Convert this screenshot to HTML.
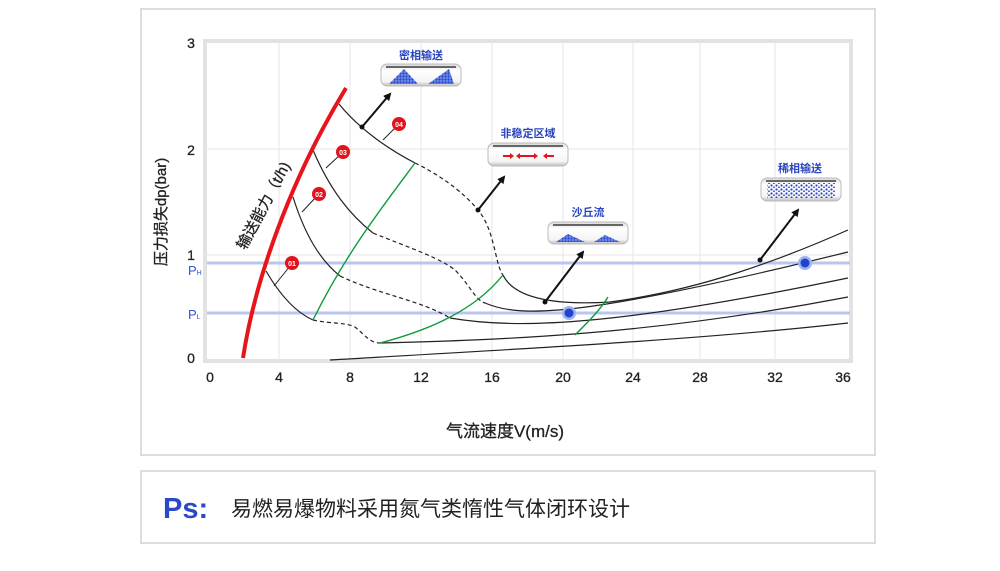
<!DOCTYPE html>
<html><head><meta charset="utf-8"><style>
html,body{margin:0;padding:0;background:#fff;width:1000px;height:571px;overflow:hidden}
svg{display:block}
text{font-family:"Liberation Sans","Noto Sans CJK SC",sans-serif}
</style></head><body>
<svg width="1000" height="571" viewBox="0 0 1000 571" xmlns="http://www.w3.org/2000/svg">
<defs>
<linearGradient id="pipe" x1="0" y1="0" x2="0" y2="1">
<stop offset="0" stop-color="#d8d8d8"/><stop offset="0.3" stop-color="#fff"/><stop offset="0.8" stop-color="#f4f4f4"/><stop offset="1" stop-color="#bdbdbd"/></linearGradient>
<pattern id="dots" width="3" height="3" patternUnits="userSpaceOnUse"><rect width="3" height="3" fill="#7d95e6"/><circle cx="1.5" cy="1.5" r="1.2" fill="#2a48d0"/></pattern>
<pattern id="dots2" width="5" height="4" patternUnits="userSpaceOnUse"><circle cx="1.5" cy="1.5" r="1.1" fill="#2a48d0"/><circle cx="4" cy="3.3" r="0.9" fill="#2a48d0"/></pattern>
<marker id="ah" markerWidth="8" markerHeight="8" refX="6" refY="4" orient="auto" markerUnits="userSpaceOnUse"><path d="M0,0 L8,4 L0,8 z" fill="#111"/></marker>
</defs>
<rect x="141" y="9" width="734" height="446" fill="#fff" stroke="#ddd" stroke-width="2"/>
<rect x="141" y="471" width="734" height="72" fill="#fff" stroke="#ddd" stroke-width="2"/>
<rect x="205" y="41" width="646" height="320" fill="#fff" stroke="#e2e2e2" stroke-width="4"/>
<g stroke="#e6e6e6" stroke-width="1">
<line x1="279" y1="41" x2="279" y2="360"/><line x1="350" y1="41" x2="350" y2="360"/><line x1="421" y1="41" x2="421" y2="360"/><line x1="492" y1="41" x2="492" y2="360"/><line x1="563" y1="41" x2="563" y2="360"/><line x1="633" y1="41" x2="633" y2="360"/><line x1="700" y1="41" x2="700" y2="360"/><line x1="775" y1="41" x2="775" y2="360"/>
<line x1="205" y1="149" x2="850" y2="149"/><line x1="205" y1="255" x2="850" y2="255"/>
</g>
<line x1="207" y1="263" x2="850" y2="263" stroke="#b8c6f0" stroke-width="3"/>
<line x1="207" y1="313" x2="850" y2="313" stroke="#b8c6f0" stroke-width="3"/>
<g font-size="14" fill="#222" text-anchor="middle" stroke="#222" stroke-width="0.3">
<text x="191" y="48">3</text><text x="191" y="155">2</text><text x="191" y="260">1</text><text x="191" y="363">0</text>
<text x="210" y="382">0</text><text x="279" y="382">4</text><text x="350" y="382">8</text><text x="421" y="382">12</text><text x="492" y="382">16</text><text x="563" y="382">20</text><text x="633" y="382">24</text><text x="700" y="382">28</text><text x="775" y="382">32</text><text x="843" y="382">36</text>
</g>
<text x="188" y="275" font-size="13" fill="#3355cc">P<tspan font-size="7">H</tspan></text>
<text x="188" y="319" font-size="13" fill="#3355cc">P<tspan font-size="7">L</tspan></text>
<text transform="translate(166,212) rotate(-90)" font-size="15" fill="#222" text-anchor="middle" stroke="#222" stroke-width="0.3">压力损失dp(bar)</text>
<text x="505" y="437" font-size="17" fill="#222" text-anchor="middle" stroke="#222" stroke-width="0.3">气流速度V(m/s)</text>
<g fill="none" stroke="#222" stroke-width="1.2">
<path d="M266,271 C280,295 295,312 313,320"/>
<path d="M313,320 C330,324 345,322 355,327 C365,335 370,343 380,343" stroke-dasharray="4,3"/>
<path d="M380,343 C500,340 650,335 848,297"/>
<path d="M293,197 C305,235 320,260 340,276"/>
<path d="M340,276 C380,295 420,300 450,318" stroke-dasharray="4,3"/>
<path d="M450,318 C520,330 620,325 848,278"/>
<path d="M313,150 C330,190 350,215 373,233"/>
<path d="M373,233 C410,248 440,258 455,270 C470,285 475,300 485,303" stroke-dasharray="4,3"/>
<path d="M485,303 C520,318 580,318 848,252"/>
<path d="M339,104 C360,130 390,150 415,163"/>
<path d="M415,163 C450,180 470,200 478,210 C495,230 495,265 503,275" stroke-dasharray="4,3"/>
<path d="M503,275 C515,300 560,305 610,302 C700,290 780,260 848,230"/>
<path d="M330,360 C500,350 700,340 848,323"/>
</g>
<g fill="none" stroke="#109a3c" stroke-width="1.4">
<path d="M313,320 C345,255 380,210 415,163"/>
<path d="M380,343 C430,330 475,310 503,275"/>
<path d="M575,335 C590,320 600,310 608,297"/>
</g>
<path d="M243,358 C255,280 290,180 346,88" fill="none" stroke="#e8141c" stroke-width="4"/>
<text transform="translate(268,208) rotate(-62)" font-size="15" fill="#222" text-anchor="middle" stroke="#222" stroke-width="0.3">输送能力（t/h)</text>
<g stroke="#222" stroke-width="1"><line x1="274" y1="286" x2="290" y2="266"/><line x1="302" y1="212" x2="317" y2="196"/><line x1="326" y1="168" x2="341" y2="154"/><line x1="383" y1="140" x2="397" y2="126"/></g>
<g fill="#e0141c"><circle cx="292" cy="263" r="7"/><circle cx="319" cy="194" r="7"/><circle cx="343" cy="152" r="7"/><circle cx="399" cy="124" r="7"/></g>
<g font-size="7" fill="#fff" text-anchor="middle" font-weight="bold"><text x="292" y="266">01</text><text x="319" y="197">02</text><text x="343" y="155">03</text><text x="399" y="127">04</text></g>
<g stroke="#111" stroke-width="2" marker-end="url(#ah)">
<line x1="362" y1="127" x2="390" y2="94"/><line x1="478" y1="210" x2="504" y2="177"/><line x1="545" y1="302" x2="583" y2="252"/><line x1="760" y1="260" x2="798" y2="210"/>
</g>
<g fill="#111"><circle cx="362" cy="127" r="2.5"/><circle cx="478" cy="210" r="2.5"/><circle cx="545" cy="302" r="2.5"/><circle cx="760" cy="260" r="2.5"/></g>
<circle cx="569" cy="313" r="7" fill="#9fb3ee"/><circle cx="569" cy="313" r="4.5" fill="#2244cc"/>
<circle cx="805" cy="263" r="7" fill="#9fb3ee"/><circle cx="805" cy="263" r="4.5" fill="#2244cc"/>
<g font-size="11" fill="#2a44c0" font-weight="bold" text-anchor="middle">
<text x="421" y="59">密相输送</text><text x="528" y="137">非稳定区域</text><text x="588" y="216">沙丘流</text><text x="800" y="172">稀相输送</text></g>
<g stroke="#bbb" stroke-width="1" fill="url(#pipe)">
<rect x="381" y="64" width="80" height="22" rx="6"/><rect x="488" y="143" width="80" height="23" rx="6"/><rect x="548" y="222" width="80" height="22" rx="6"/><rect x="761" y="178" width="80" height="23" rx="6"/></g>
<g fill="#666"><rect x="386" y="66" width="70" height="2"/><rect x="493" y="145" width="70" height="2"/><rect x="553" y="224" width="70" height="2"/><rect x="766" y="180" width="70" height="2"/></g>
<g fill="url(#dots)"><path d="M389,84 L404,69 L418,84z"/><path d="M428,84 L449,69 L454,84z"/>
<path d="M556,242 L568,234 L585,242z"/><path d="M594,242 L605,235 L620,242z"/></g>
<rect x="767" y="183" width="68" height="15" fill="url(#dots2)"/>
<g fill="#e0141c"><rect x="503" y="155" width="7" height="2"/><path d="M510,153 L514,156 L510,159z"/><rect x="520" y="155" width="14" height="2"/><path d="M520,153 L516,156 L520,159z"/><path d="M534,153 L538,156 L534,159z"/><rect x="547" y="155" width="7" height="2"/><path d="M547,153 L543,156 L547,159z"/></g>
<text x="163" y="518" font-size="29" font-weight="bold" fill="#2a48c8">Ps:</text>
<text x="231" y="516" font-size="21" fill="#222">易燃易爆物料采用氮气类惰性气体闭环设计</text>
</svg>
</body></html>
